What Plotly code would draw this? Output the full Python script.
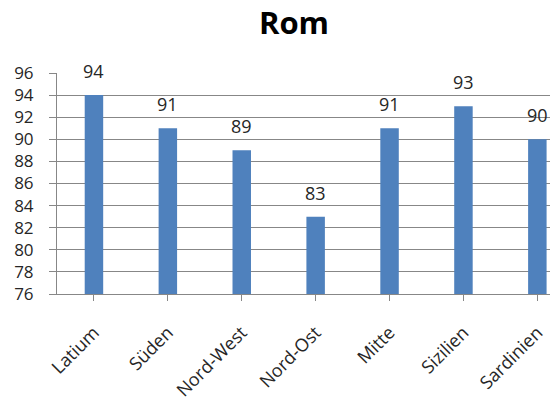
import plotly.graph_objects as go

regions = ["Latium", "Süden", "Nord-West", "Nord-Ost", "Mitte", "Sizilien", "Sardinien"]
values = [94, 91, 89, 83, 91, 93, 90]
y_ticks = list(range(76, 97, 2))

bar_color = "#4F81BD"
grid_color = "#878787"
text_color = "#262626"
font_family = "Open Sans"

fig = go.Figure(
    go.Bar(
        x=list(range(len(regions))),
        y=values,
        width=0.25,
        marker=dict(color=bar_color, line=dict(width=0)),
        hoverinfo="skip",
    )
)

# value labels above each bar
for i, v in enumerate(values):
    fig.add_annotation(
        x=i, y=v, text=str(v), showarrow=False,
        yanchor="bottom", yshift=10,
        font=dict(family=font_family, size=18, color=text_color),
    )

fig.update_layout(
    width=555, height=406,
    margin=dict(l=57, r=5, t=73, b=111.5),
    paper_bgcolor="white", plot_bgcolor="white",
    showlegend=False,
    title=dict(
        text="<b>Rom</b>",
        x=294 / 555, xanchor="center",
        y=1 - 23 / 406, yanchor="middle",
        font=dict(family=font_family, size=31, color="black"),
    ),
)

fig.update_xaxes(
    range=[-0.5, -0.5 + 493 / 73.9],
    tickmode="array",
    tickvals=list(range(len(regions))),
    ticktext=regions,
    tickangle=-45,
    ticks="outside", tickson="boundaries", ticklen=6, tickcolor=grid_color,
    showline=True, linecolor=grid_color, linewidth=1,
    showgrid=False, zeroline=False,
    tickfont=dict(family=font_family, size=18, color=text_color),
    ticklabelstandoff=14,
    automargin=False,
)

fig.update_yaxes(
    range=[76, 96],
    tickmode="array", tickvals=y_ticks,
    ticks="outside", ticklen=7, tickcolor=grid_color,
    showline=True, linecolor=grid_color, linewidth=1,
    showgrid=True, gridcolor=grid_color, gridwidth=1,
    zeroline=False,
    tickfont=dict(family=font_family, size=17, color=text_color),
    ticklabelstandoff=12,
    automargin=False,
)

fig.write_html("out.html")
